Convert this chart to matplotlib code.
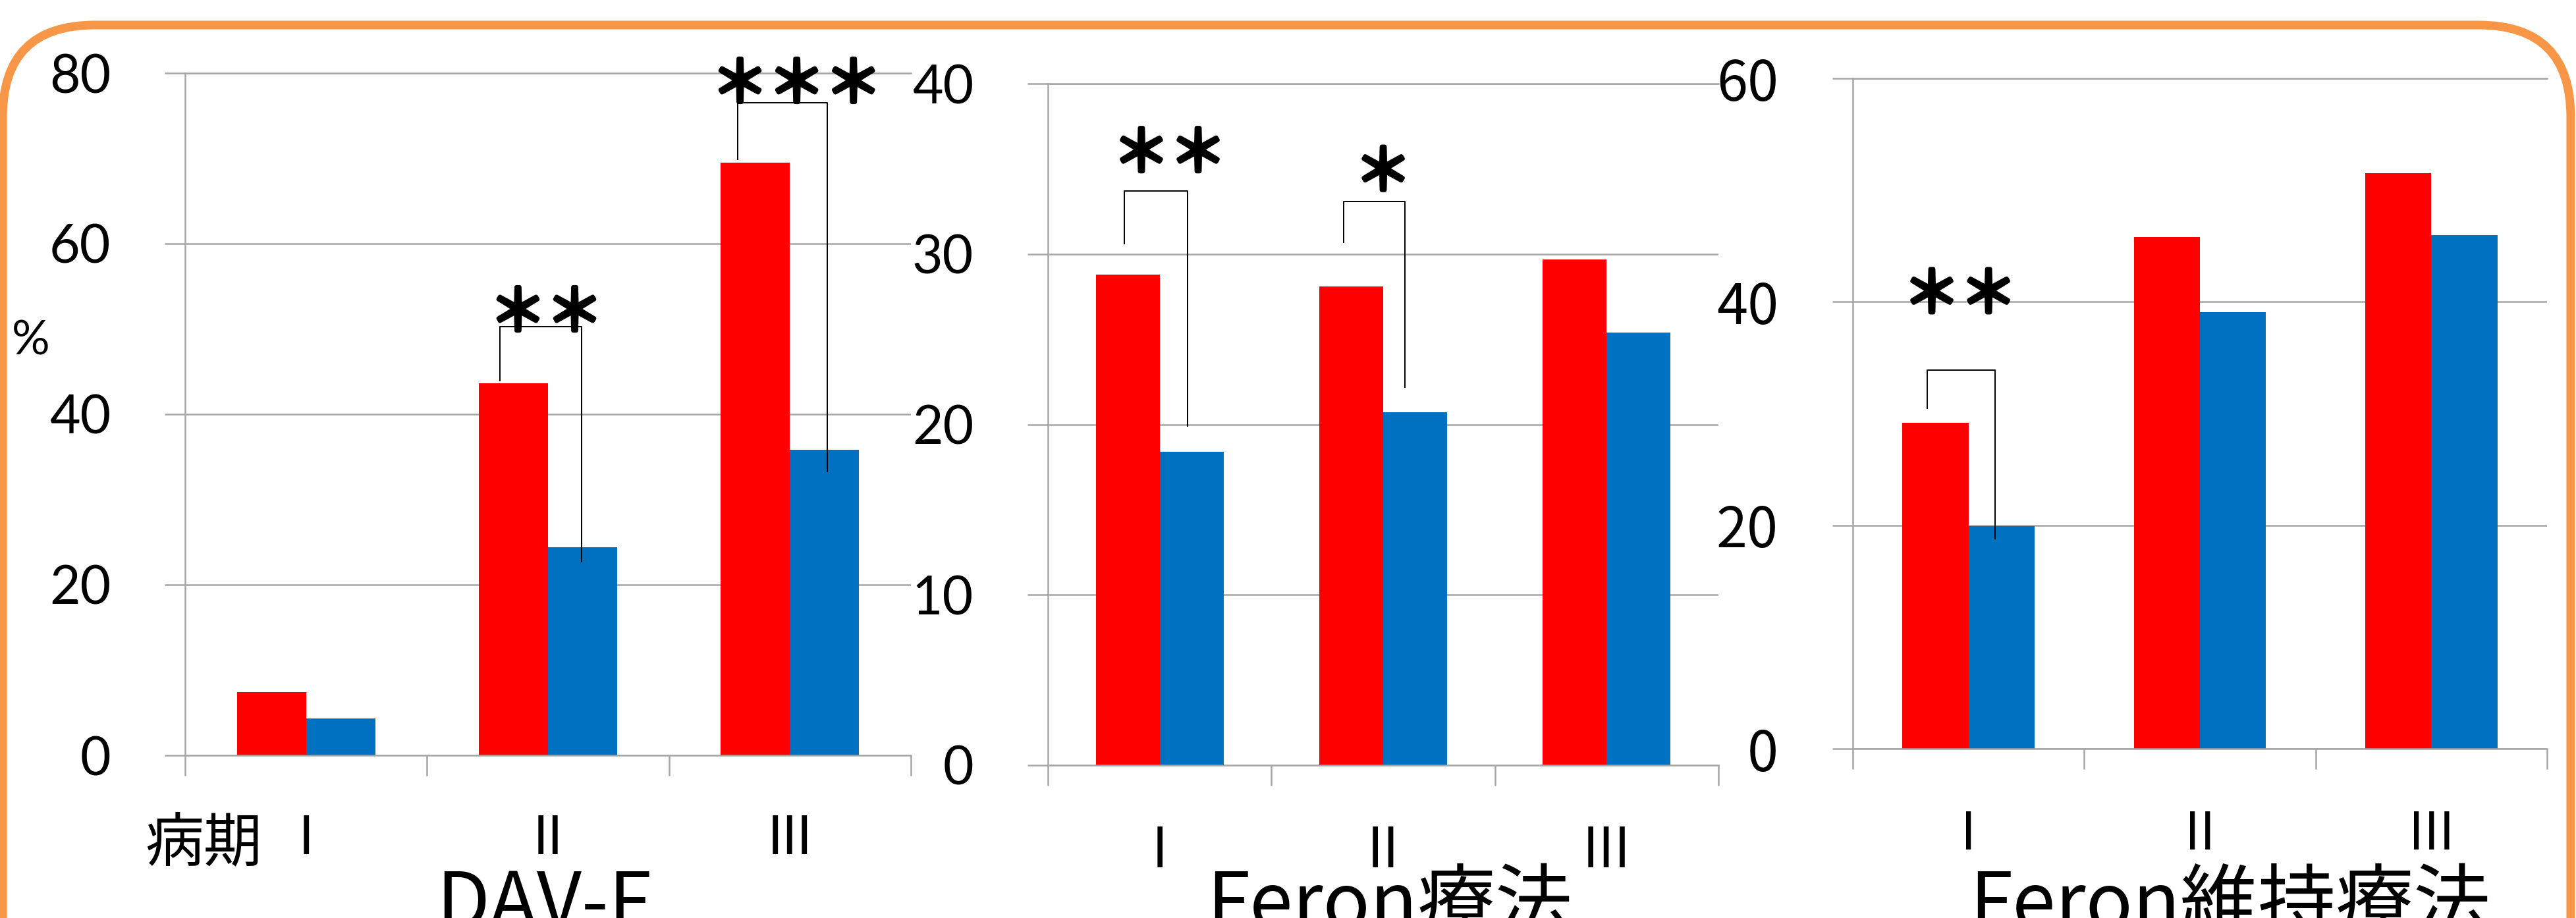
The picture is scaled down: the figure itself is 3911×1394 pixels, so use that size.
import numpy as np
import matplotlib
matplotlib.use("Agg")
import matplotlib.pyplot as plt
import matplotlib.patheffects as pe
from matplotlib.patches import FancyBboxPatch
from matplotlib.transforms import IdentityTransform

# ======================== data ========================
stages = ["I", "II", "III"]

dav_red = [7.4, 43.6, 69.5]
dav_blue = [4.3, 24.4, 35.8]

feron_red = [28.8, 28.1, 29.7]
feron_blue = [18.4, 20.7, 25.4]

maint_red = [29.2, 45.8, 51.5]
maint_blue = [19.9, 39.1, 46.0]

titles = ["DAV-F", "Feron療法", "Feron維持療法"]

# significance marks: (stage index, left leg x, right leg x, left leg bottom, bracket top,
#                      right leg bottom, stars, stars x, stars y)
dav_sig = [(1, -0.20, 0.14, 43.9, 50.3, 22.7, "＊＊", -0.007, 51.7),
           (2, -0.217, 0.153, 69.9, 76.5, 33.3, "＊＊＊", 0.028, 78.5)]
feron_sig = [(0, -0.158, 0.125, 30.6, 33.7, 19.9, "＊＊", 0.045, 35.8),
             (1, -0.176, 0.098, 30.7, 33.1, 22.2, "＊", 0.0, 34.7)]
maint_sig = [(0, -0.178, 0.115, 30.5, 33.9, 18.8, "＊＊", -0.036, 40.5)]

# ======================== figure ========================
W, H = 3911, 1394
plt.rcParams['font.family'] = ['Noto Sans CJK JP', 'DejaVu Sans']
fig = plt.figure(figsize=(W / 100, H / 100), dpi=100)

grid_c = '#A6A6A6'
red_c = '#FF0000'
blue_c = '#0070C0'

# the stars in the slide are heavy; thicken the regular glyph
star_fx = [pe.Stroke(linewidth=4.5, foreground='black'), pe.Normal()]


def px_box(left, right, top, bottom):
    return [left / W, 1 - bottom / H, (right - left) / W, (bottom - top) / H]


def draw_panel(box, red, blue, ymax, ystep, num_font, num_size, lab_font, lab_size, lab_pad, sig):
    ax = fig.add_axes(box)
    x = np.arange(len(stages)) + 0.5
    bw = 1 / 3.5
    ax.bar(x - bw / 2, red, bw, color=red_c, zorder=2)
    ax.bar(x + bw / 2, blue, bw, color=blue_c, zorder=2)
    ax.set_xlim(0, len(stages))
    ax.set_ylim(0, ymax)
    ax.set_yticks(np.arange(0, ymax + 1, ystep))
    ax.grid(axis='y', color=grid_c, lw=1.8, zorder=0)
    ax.set_axisbelow(True)

    ax.set_xticks(np.arange(len(stages) + 1))
    ax.set_xticklabels([])
    ax.set_xticks(x, minor=True)
    ax.set_xticklabels(stages, minor=True, fontfamily=lab_font, fontsize=lab_size)
    ax.tick_params(axis='x', which='minor', length=0, pad=lab_pad)
    ax.tick_params(axis='both', which='major', direction='out', length=22.3, width=1.8, color=grid_c)
    ax.tick_params(axis='y', pad=59, labelsize=num_size)
    for t in ax.get_yticklabels():
        t.set_fontfamily(num_font)

    ax.spines['right'].set_visible(False)
    for s in ['left', 'bottom', 'top']:
        ax.spines[s].set_color(grid_c)
        ax.spines[s].set_linewidth(1.8)

    for i, xl, xr, yl, yt, yr, stars, tx, ty in sig:
        c = x[i]
        ax.plot([c + xl, c + xl, c + xr, c + xr], [yl, yt, yt, yr],
                color='black', lw=1.4, zorder=5, clip_on=False)
        ax.text(c + tx, ty, stars, ha='center', va='center', fontsize=62,
                fontfamily='Noto Sans CJK JP', zorder=6, path_effects=star_fx)
    return ax


ax1 = draw_panel(px_box(281, 1383, 111, 1147), dav_red, dav_blue, 80, 20,
                 'Lato', 58, 'Lato', 58, 65, dav_sig)
ax2 = draw_panel(px_box(1591, 2609, 127, 1162), feron_red, feron_blue, 40, 10,
                 'Lato', 58, 'Noto Sans CJK JP', 60, 63, feron_sig)
ax3 = draw_panel(px_box(2813, 3867, 119, 1137), maint_red, maint_blue, 60, 20,
                 'Noto Sans CJK JP', 61, 'Noto Sans CJK JP', 57, 65, maint_sig)

# axis unit and stage caption
fig.text(18 / W, 1 - 518 / H, "%", fontfamily='Lato', fontsize=52, ha='left', va='center')
fig.text(398 / W, 1 - 1236 / H, "病期", fontsize=64, ha='right', va='top')

# panel captions (cut by the lower edge, like the original slide)
for tx, t in zip([826, 2110, 3386], titles):
    fig.text(tx / W, -16 / H, t, fontsize=85, ha='center', va='baseline')

# rounded orange frame
frame = FancyBboxPatch((4, -300), 3903 - 4, (H - 38) + 300,
                       boxstyle="round,pad=0,rounding_size=140",
                       transform=IdentityTransform(), fill=False,
                       edgecolor='#F79646', linewidth=9.4, zorder=10)
fig.patches.append(frame)

fig.savefig("out.png", dpi=100)
